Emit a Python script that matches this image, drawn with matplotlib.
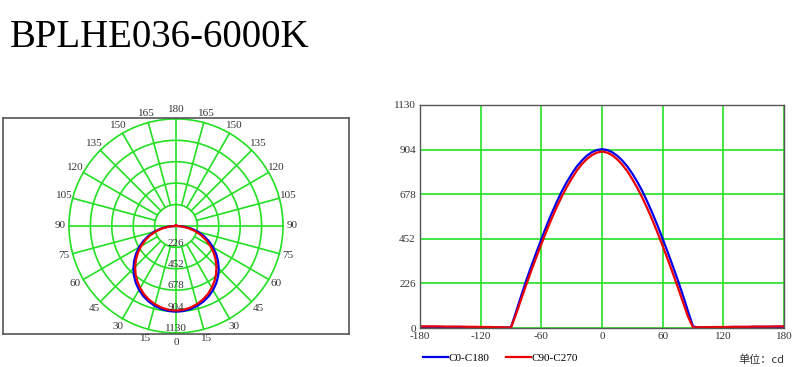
import numpy as np
import matplotlib
matplotlib.use('Agg')
import matplotlib.pyplot as plt

plt.rcParams['axes.unicode_minus'] = False

# ---- data (cd) ----
angles = list(range(-180, 185, 5))

c0_c180 = [6, 6, 6, 6, 5, 5, 5, 5, 5, 5, 4, 4, 4, 4, 3, 3, 3, 2,
           4, 82, 162, 240, 312, 382, 450, 516, 578, 636, 690, 738, 780, 818, 848, 873, 891, 902,
           906,
           902, 891, 873, 849, 819, 782, 740, 692, 638, 580, 518, 452, 384, 314, 242, 166, 86, 8,
           3, 3, 3, 4, 4, 4, 5, 5, 5, 5, 5, 6, 6, 6, 6, 6, 6, 6]

c90_c270 = [8, 8, 8, 8, 8, 7, 7, 7, 7, 6, 6, 6, 5, 5, 5, 4, 4, 3,
            2, 70, 145, 218, 290, 358, 425, 490, 552, 610, 664, 713, 757, 797, 830, 856, 876, 889,
            894,
            889, 876, 855, 828, 795, 754, 709, 659, 604, 545, 482, 416, 348, 278, 206, 132, 58, 3,
            4, 4, 4, 5, 5, 5, 5, 6, 6, 6, 6, 7, 7, 7, 7, 8, 8, 8]

ring_values = [226, 452, 678, 904, 1130]
x_ticks = [-180, -120, -60, 0, 60, 120, 180]
title = "BPLHE036-6000K"
series_names = ["C0-C180", "C90-C270"]
unit_label = "单位：cd"

GREEN = '#22e022'
BLUE = '#0000ee'
RED = '#ee0000'
FRAME = '#555555'
SERIF = 'Liberation Serif'
FS = 8

fig = plt.figure(figsize=(8, 3.67), dpi=100)
fig.text(10 / 800, 0.872, title, fontsize=28, family=SERIF, va='baseline', ha='left')

# ---- polar diagram, drawn by hand ----
axp = fig.add_axes([3 / 800, 0.09, 346 / 800, 216 / 367])
rmax = ring_values[-1]
axp.set_xlim(-1827, 1827)
axp.set_ylim(-1141, 1140)
axp.set_xticks([])
axp.set_yticks([])
for s in axp.spines.values():
    s.set_color(FRAME)
    s.set_linewidth(1.2)

t = np.linspace(0, 2 * np.pi, 361)
for rv in ring_values:
    axp.plot(rv * np.cos(t), rv * np.sin(t), color=GREEN, lw=1.2, clip_on=False)
for a in range(0, 360, 15):
    ar = np.radians(a)
    r0 = 0 if a % 90 == 0 else ring_values[0]
    axp.plot([r0 * np.sin(ar), rmax * np.sin(ar)], [-r0 * np.cos(ar), -rmax * np.cos(ar)],
             color=GREEN, lw=1.2, clip_on=False)

th = np.radians(angles)
for vals, col in [(c0_c180, BLUE), (c90_c270, RED)]:
    v = np.array(vals)
    axp.plot(v * np.sin(th), -v * np.cos(th), color=col, lw=1.6, clip_on=False)

rl = 1.085 * rmax
for a in range(0, 181, 15):
    ar = np.radians(a)
    sides = [1] if a in (0, 180) else [1, -1]
    for sgn in sides:
        axp.text(sgn * rl * np.sin(ar), -rl * np.cos(ar), str(a), fontsize=FS, family=SERIF,
                 ha='center', va='center', color='#333333', clip_on=False)
for rv in ring_values:
    axp.text(0, -(rv - 45), str(rv), fontsize=FS, family=SERIF, ha='center', va='center',
             color='#333333')

# ---- cartesian diagram ----
ax = fig.add_axes([420 / 800, 39 / 367, 364 / 800, 223 / 367])
ax.plot(angles, c0_c180, color=BLUE, lw=1.6, label=series_names[0])
ax.plot(angles, c90_c270, color=RED, lw=1.6, label=series_names[1])
ax.set_xlim(-180, 180)
ax.set_ylim(0, rmax)
ax.set_xticks(x_ticks)
ax.set_yticks([0] + ring_values)
ax.grid(True, color=GREEN, lw=1.2)
ax.set_axisbelow(True)
ax.tick_params(length=0, labelsize=FS, colors='#333333', pad=3)
for lab in ax.get_xticklabels() + ax.get_yticklabels():
    lab.set_family(SERIF)
for s in ax.spines.values():
    s.set_color(FRAME)
    s.set_linewidth(1.0)

ax.legend(loc='upper left', bbox_to_anchor=(-0.02, -0.07), ncol=2, frameon=False,
          prop={'family': SERIF, 'size': FS}, handlelength=2.3, handletextpad=0.0,
          columnspacing=1.5)
fig.text(784 / 800, 1 - 360 / 367, unit_label, fontsize=FS,
         family=['Noto Sans CJK SC', 'DejaVu Sans'], ha='right', va='center', color='#333333')

fig.savefig('out.png', dpi=100)
